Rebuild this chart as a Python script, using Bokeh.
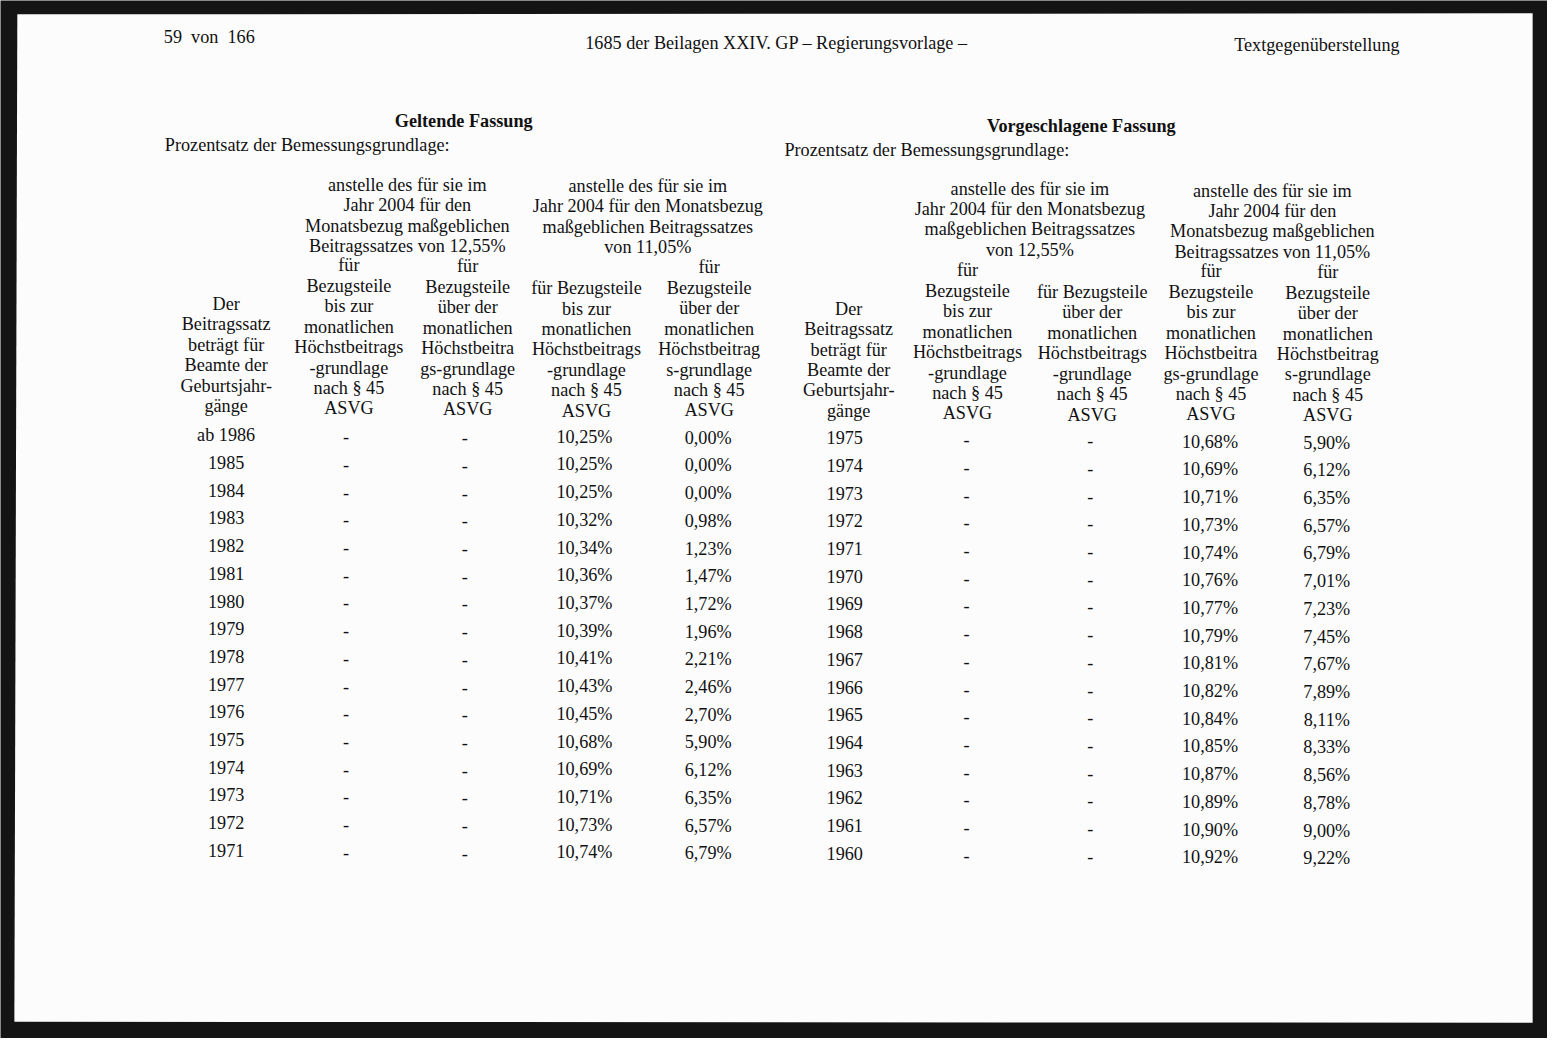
from bokeh.plotting import figure
from bokeh.models import ColumnDataSource, Range1d
from bokeh.embed import file_html
from bokeh.resources import INLINE
from bokeh.core.properties import value

# ---------------- data ----------------
page_left = "59\u2002von\u2002166"
page_center = "1685 der Beilagen XXIV. GP – Regierungsvorlage –"
page_right = "Textgegenüberstellung"

left_title = "Geltende Fassung"
right_title = "Vorgeschlagene Fassung"
subtitle = "Prozentsatz der Bemessungsgrundlage:"

hdr_year = ["Der", "Beitragssatz", "beträgt für", "Beamte der", "Geburtsjahr-", "gänge"]

left_group1 = ["anstelle des für sie im", "Jahr 2004 für den", "Monatsbezug maßgeblichen", "Beitragssatzes von 12,55%"]
left_group2 = ["anstelle des für sie im", "Jahr 2004 für den Monatsbezug", "maßgeblichen Beitragssatzes", "von 11,05%"]
left_colB = ["für", "Bezugsteile", "bis zur", "monatlichen", "Höchstbeitrags", "-grundlage", "nach § 45", "ASVG"]
left_colC = ["für", "Bezugsteile", "über der", "monatlichen", "Höchstbeitra", "gs-grundlage", "nach § 45", "ASVG"]
left_colD = ["für Bezugsteile", "bis zur", "monatlichen", "Höchstbeitrags", "-grundlage", "nach § 45", "ASVG"]
left_colE = ["für", "Bezugsteile", "über der", "monatlichen", "Höchstbeitrag", "s-grundlage", "nach § 45", "ASVG"]

right_group1 = ["anstelle des für sie im", "Jahr 2004 für den Monatsbezug", "maßgeblichen Beitragssatzes", "von 12,55%"]
right_group2 = ["anstelle des für sie im", "Jahr 2004 für den", "Monatsbezug maßgeblichen", "Beitragssatzes von 11,05%"]
right_colB = ["für", "Bezugsteile", "bis zur", "monatlichen", "Höchstbeitrags", "-grundlage", "nach § 45", "ASVG"]
right_colC = ["für Bezugsteile", "über der", "monatlichen", "Höchstbeitrags", "-grundlage", "nach § 45", "ASVG"]
right_colD = ["für", "Bezugsteile", "bis zur", "monatlichen", "Höchstbeitra", "gs-grundlage", "nach § 45", "ASVG"]
right_colE = ["für", "Bezugsteile", "über der", "monatlichen", "Höchstbeitrag", "s-grundlage", "nach § 45", "ASVG"]

left_years = ["ab 1986", "1985", "1984", "1983", "1982", "1981", "1980", "1979",
              "1978", "1977", "1976", "1975", "1974", "1973", "1972", "1971"]
left_rate_low = [10.25, 10.25, 10.25, 10.32, 10.34, 10.36, 10.37, 10.39,
                 10.41, 10.43, 10.45, 10.68, 10.69, 10.71, 10.73, 10.74]
left_rate_high = [0.00, 0.00, 0.00, 0.98, 1.23, 1.47, 1.72, 1.96,
                  2.21, 2.46, 2.70, 5.90, 6.12, 6.35, 6.57, 6.79]

right_years = ["1975", "1974", "1973", "1972", "1971", "1970", "1969", "1968",
               "1967", "1966", "1965", "1964", "1963", "1962", "1961", "1960"]
right_rate_low = [10.68, 10.69, 10.71, 10.73, 10.74, 10.76, 10.77, 10.79,
                  10.81, 10.82, 10.84, 10.85, 10.87, 10.89, 10.90, 10.92]
right_rate_high = [5.90, 6.12, 6.35, 6.57, 6.79, 7.01, 7.23, 7.45,
                   7.67, 7.89, 8.11, 8.33, 8.56, 8.78, 9.00, 9.22]

dash = "-"

# ---------------- figure ----------------
W, H = 1547, 1038
p = figure(width=W, height=H, output_backend="svg", toolbar_location=None,
           x_range=Range1d(0, 1563), y_range=Range1d(1054, 0),
           x_axis_type=None, y_axis_type=None, min_border=0)
p.grid.visible = False
p.outline_line_color = None
p.background_fill_color = "#141414"
p.border_fill_color = "#141414"

# page sheet
p.patch([17, 1548, 1548, 14], [14, 13, 1038, 1037], fill_color="#fcfcfd", line_color=None)

FONT = value("Liberation Serif")
FS = "18.2px"
COL = "#111111"
LH = 20.75


def put(xs, ys, texts, align="center", bold=False):
    src = ColumnDataSource(dict(x=list(xs), y=list(ys), t=list(texts)))
    p.text(x="x", y="y", text="t", source=src, text_align=align,
           text_baseline="middle", text_font=FONT, text_font_size=FS,
           text_color=COL, text_font_style="bold" if bold else "normal")


def block(lines, cx, y0, step=LH):
    put([cx] * len(lines), [y0 + i * step for i in range(len(lines))], lines)


def column(vals, cx, y0, step):
    put([cx] * len(vals), [y0 + i * step for i in range(len(vals))], vals)


def pct(v):
    return f"{v:.2f}%".replace(".", ",")


# page header
put([165], [37], [page_left], align="left")
put([784], [43], [page_center])
put([1330], [45], [page_right])

# left table
put([468], [122], [left_title], bold=True)
put([166], [147], [subtitle], align="left")
block(hdr_year, 228, 308)
block(left_group1, 411, 187)
block(left_colB, 352, 269)
block(left_colC, 472, 270)
block(left_group2, 654, 188)
block(left_colD, 592, 292)
block(left_colE, 716, 271)

RS = 28.13
column(left_years, 228, 441, RS)
column([dash] * len(left_years), 349, 443, RS)
column([dash] * len(left_years), 469, 444, RS)
column([pct(v) for v in left_rate_low], 590, 443, RS)
column([pct(v) for v in left_rate_high], 715, 444, RS)

# right table
put([1092], [127], [right_title], bold=True)
put([792], [152], [subtitle], align="left")
block(hdr_year, 857, 313)
block(right_group1, 1040, 191)
block(right_colB, 977, 274)
block(right_colC, 1103, 296)
block(right_group2, 1285, 193)
block(right_colD, 1223, 275)
block(right_colE, 1341, 276)

column(right_years, 853, 444, RS)
column([dash] * len(right_years), 976, 446, RS)
column([dash] * len(right_years), 1101, 447, RS)
column([pct(v) for v in right_rate_low], 1222, 448, RS)
column([pct(v) for v in right_rate_high], 1340, 449, RS)

open("out.html", "w").write(file_html(p, INLINE))
